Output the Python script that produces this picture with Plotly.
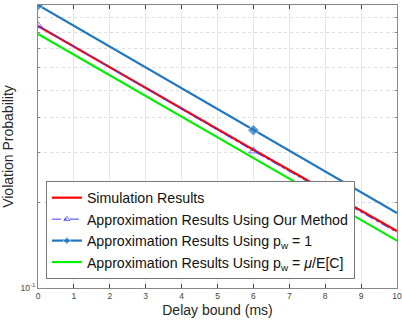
import plotly.graph_objects as go

delay = [0, 6, 10]
sim = [0.843, 0.308, 0.159]
our_method = [0.845, 0.305, 0.157]
pw_one = [1.0, 0.361, 0.184]
pw_mu = [0.79, 0.288, 0.147]

names = ["Simulation Results",
         "Approximation Results Using Our Method",
         "Approximation Results Using p<sub>w</sub> = 1",
         "Approximation Results Using p<sub>w</sub> = <i>μ</i>/E[C]"]

fig = go.Figure()
fig.add_trace(go.Scatter(x=delay, y=sim, mode="lines", name=names[0],
                         line=dict(color="#ff0000", width=2.2)))
fig.add_trace(go.Scatter(x=delay, y=our_method, mode="lines+markers", name=names[1],
                         line=dict(color="#3b3bff", width=1, dash="dashdot"),
                         marker=dict(symbol="triangle-up-open", size=[8, 8, 0], color="#3b3bff")))
fig.add_trace(go.Scatter(x=delay, y=pw_one, mode="lines+markers", name=names[2],
                         line=dict(color="#1f77c0", width=2.2),
                         marker=dict(symbol="diamond", size=[9, 9, 0], color="#1f77c0")))
fig.add_trace(go.Scatter(x=delay, y=pw_mu, mode="lines", name=names[3],
                         line=dict(color="#00ee00", width=2.2)))

minor_vals = [0.2, 0.3, 0.4, 0.5, 0.6, 0.7, 0.8, 0.9]

fig.update_layout(
    width=402, height=323,
    margin=dict(l=38, r=5, t=5, b=35, autoexpand=False),
    plot_bgcolor="white", paper_bgcolor="white",
    font=dict(family="Liberation Sans, Arial", color="#262626"),
    legend=dict(x=0.022, y=0.032, xanchor="left", yanchor="bottom",
                bgcolor="white", bordercolor="#777777", borderwidth=1,
                itemwidth=30, font=dict(size=14.2, color="#111111"), tracegroupgap=0),
)
fig.update_xaxes(range=[0, 10], tickvals=list(range(11)), ticks="inside", ticklen=4,
                 tickfont=dict(size=8.5, color="#444444"), automargin=False,
                 showline=True, linecolor="#888888", mirror="ticks",
                 showgrid=True, gridcolor="#e6e6e6", gridwidth=1, zeroline=False,
                 title=dict(text="Delay bound (ms)", font=dict(size=14), standoff=4))
fig.update_yaxes(type="log", range=[-1, 0], tickvals=[0.1, 1],
                 ticktext=["10<sup>-1</sup>", "10<sup>0</sup>"], automargin=False,
                 ticks="inside", ticklen=4, tickfont=dict(size=8.5, color="#444444"),
                 showline=True, linecolor="#888888", mirror="ticks",
                 showgrid=False, zeroline=False,
                 minor=dict(tickvals=minor_vals, ticks="inside", ticklen=2, tickcolor="#888888",
                            showgrid=True, gridcolor="#dddddd", griddash="dot"),
                 title=dict(text="Violation Probability", font=dict(size=14), standoff=5))

# the page body has an 8px default margin; drop it so the chart sits at the corner
fig.write_html("out.html", config={"displayModeBar": False},
               post_script="document.body.style.margin='0';")
